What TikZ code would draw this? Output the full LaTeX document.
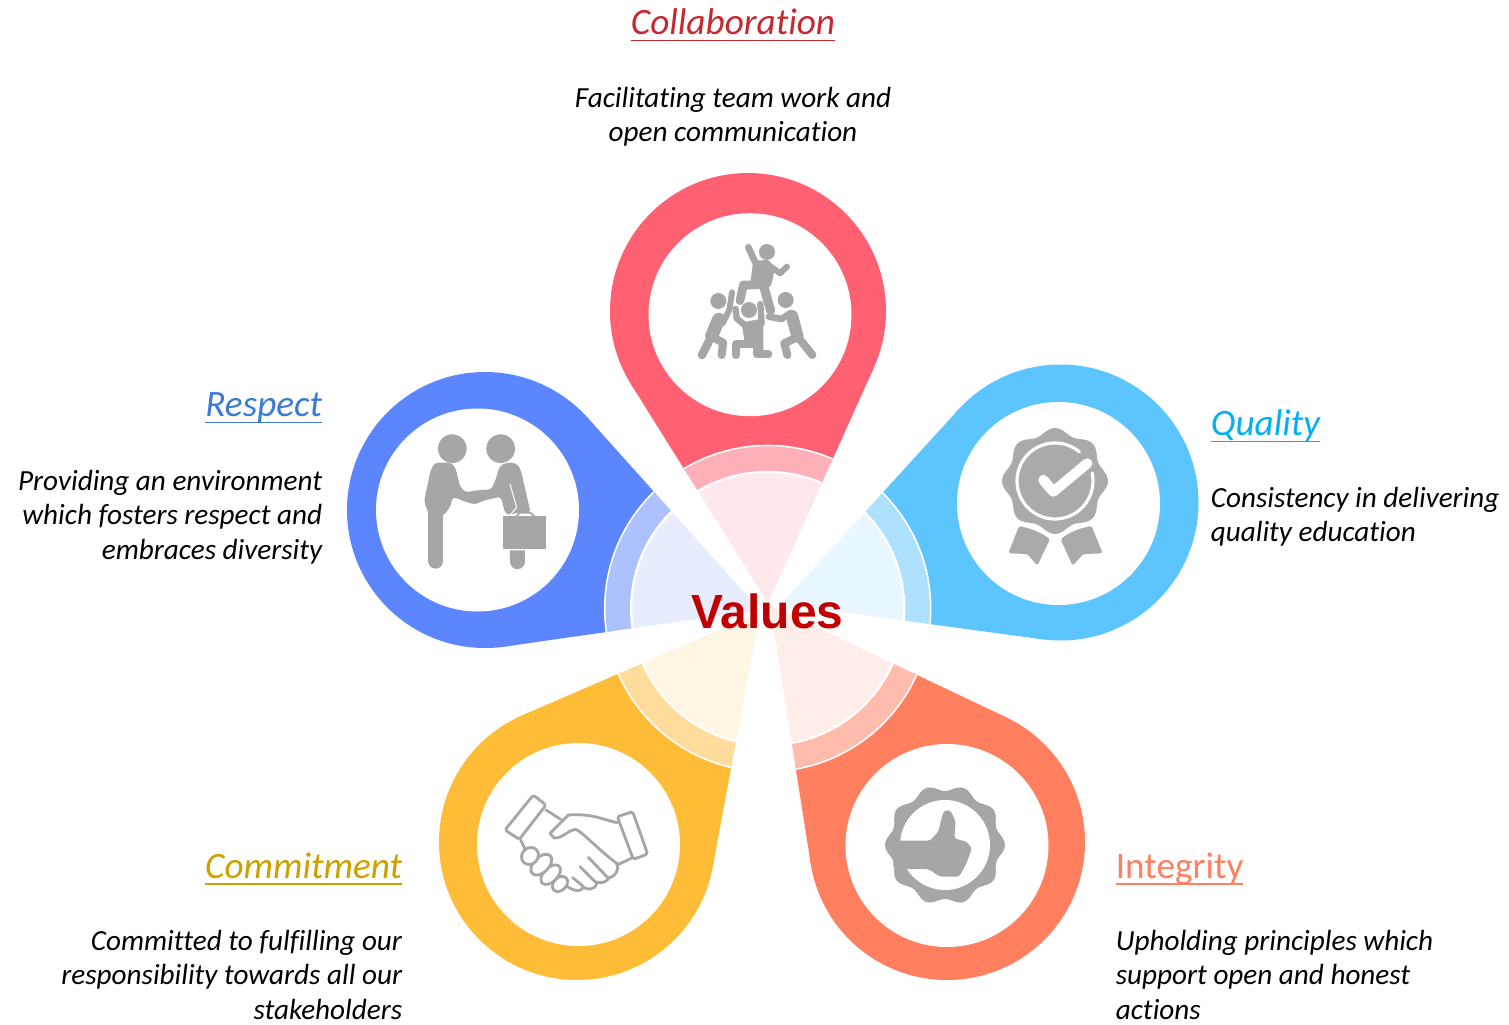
\documentclass[tikz,border=0pt]{standalone}
\usepackage{fontspec}
\setmainfont[Ligatures=NoCommon]{Carlito}
\newfontfamily\valuesfont{Liberation Sans}
\usetikzlibrary{calc}

\definecolor{iconc}{HTML}{A6A6A6}
\definecolor{redm}{HTML}{FF6072}
\definecolor{redr}{HTML}{FFAFB8}
\definecolor{redp}{HTML}{FFE8EB}
\definecolor{blum}{HTML}{5B86FF}
\definecolor{blur}{HTML}{ADC1FF}
\definecolor{blup}{HTML}{E7EDFF}
\definecolor{skym}{HTML}{5CC4FF}
\definecolor{skyr}{HTML}{AEE1FF}
\definecolor{skyp}{HTML}{E8F6FF}
\definecolor{corm}{HTML}{FF7F5F}
\definecolor{corr}{HTML}{FFBCAD}
\definecolor{corp}{HTML}{FFEDEA}
\definecolor{yelm}{HTML}{FFBC36}
\definecolor{yelr}{HTML}{FFDC9C}
\definecolor{yelp}{HTML}{FFF5E3}
\definecolor{collabt}{HTML}{C62832}
\definecolor{respectt}{HTML}{3A7BD5}
\definecolor{qualityt}{HTML}{00B0F0}
\definecolor{committ}{HTML}{CDA000}
\definecolor{valuest}{HTML}{C00000}

\newcommand{\hdrline}[1]{\leavevmode\setbox0\hbox{#1}\copy0\kern-\wd0\rule[-4pt]{\wd0}{1.1pt}}

\tikzset{
  head/.style={inner sep=0pt,font=\fontsize{21.2}{24}\selectfont\itshape},
  desc/.style={inner sep=0pt,font=\fontsize{16.6}{19.84}\selectfont\itshape},
  iconf/.style={fill=iconc},
  iconl/.style={draw=iconc,line cap=round,line join=round},
}

\begin{document}
\begin{tikzpicture}[x=0.02cm,y=-0.02cm]
  \useasboundingbox (0,0) rectangle (1509,1025);

  % petals: head centre / white disc centre / tip / colours
  \foreach \hx/\hy/\wx/\wy/\apx/\apy/\main/\ring/\pale in {
      748/311/750/314.7/768/603/redm/redr/redp,
      485/510/477.5/510/760/610/blum/blur/blup,
      1060.5/502.5/1058.5/503.5/781/604/skym/skyr/skyp,
      947/842/947/845.5/770/605/corm/corr/corp,
      577/842/578.5/844.5/760/612.5/yelm/yelr/yelp}
  {
    \pgfmathsetmacro\dir{atan2(\hy-\apy,\hx-\apx)}
    \pgfmathsetmacro\dist{veclen(\hx-\apx,\hy-\apy)}
    \pgfmathsetmacro\spread{acos(138/\dist)}
    \coordinate (tip) at (\apx,\apy);
    \coordinate (tana) at ([shift={({\dir+180+\spread}:138)}]\hx,\hy);
    \coordinate (tanb) at ([shift={({\dir+180-\spread}:138)}]\hx,\hy);
    \fill[\main] (\hx,\hy) circle (138);
    \begin{scope}
      % keep the strong colour out of the centre disc
      \clip (0,0) -- (0,1025) -- (1509,1025) -- (1509,0) -- cycle plot[domain=0:360,samples=90] ({767.7+160*cos(\x)},{608.5+160*sin(\x)}) -- cycle;
      \fill[\main] (tip) -- (tana) -- (tanb) -- cycle;
    \end{scope}
    \fill[white] (\wx,\wy) circle (101.5);
    % the two rings round the centre
    \begin{scope}
      \clip (tip) -- (tana) -- (tanb) -- cycle;
      \draw[\ring,line width=15pt] (767.7,608.5) circle (150);
      \draw[white,line width=0.9pt] (767.7,608.5) circle (163);
      \fill[\pale,draw=white,line width=1.3pt] (767.7,608.5) circle (136.5);
    \end{scope}
  }

  % team icon
  \begin{scope}[shift={(600,170)},scale=0.3333]
    \fill[iconf] (501,246) circle (24);
    \draw[iconl,line width=3.8pt] (445,232) -- (472,290);
    \fill[iconf,rounded corners=1.5pt] (460,272) -- (508,270) -- (524,300) -- (514,345) -- (495,365) -- (450,345) -- cycle;
    \draw[iconl,line width=3.4pt] (510,288) -- (540,310) -- (561,290);
    \draw[iconl,line width=4.9pt] (470,345) -- (430,345) -- (420,392);
    \draw[iconl,line width=5.2pt] (490,345) -- (512,422);
    \fill[iconf] (355,393) circle (24);
    \draw[iconl,line width=3.4pt] (396,367) -- (388,420) -- (368,460);
    \draw[iconl,line width=7.4pt] (356,448) -- (335,498);
    \draw[iconl,line width=4.8pt] (335,498) -- (306,555);
    \draw[iconl,line width=4.6pt] (345,505) -- (369,518) -- (365,555);
    \fill[iconf] (447,420) circle (24);
    \draw[iconl,line width=3.6pt] (407,417) -- (410,445) -- (440,470);
    \draw[iconl,line width=3.6pt] (481,402) -- (485,460);
    \fill[iconf] (425,458) -- (490,445) -- (490,545) -- (435,525) -- cycle;
    \draw[iconl,line width=4.6pt] (408,555) -- (408,522) -- (465,522);
    \draw[iconl,line width=4.6pt] (472,510) -- (472,553) -- (505,553);
    \fill[iconf] (557,390) circle (24);
    \draw[iconl,line width=3.8pt] (507,440) -- (545,447) -- (570,430);
    \draw[iconl,line width=7pt] (576,438) -- (592,498);
    \draw[iconl,line width=4.6pt] (597,505) -- (637,555);
    \draw[iconl,line width=4.6pt] (585,505) -- (553,520) -- (562,555);
  \end{scope}

  % two men icon
  \begin{scope}[shift={(340,370)},scale=0.3333]
    \fill[iconf] (337,236) circle (43);
    \fill[iconf] (482,236) circle (43);
    \fill[iconf,rounded corners=2pt] (272,300) -- (285,278) -- (335,278) -- (348,298) -- (360,350) -- (378,368) -- (400,362) -- (455,358) -- (470,320) -- (478,290) -- (500,277) -- (530,280) -- (542,298) -- (572,428) -- (530,428) -- (510,435) -- (495,430) -- (483,380) -- (430,392) -- (405,404) -- (375,395) -- (338,380) -- (330,412) -- (310,438) -- (268,435) -- (252,395) -- cycle;
    \draw[iconl,line width=8.7pt] (287,430) -- (287,573);
    \draw[white,line width=0.6pt] (510,342) -- (530,412) -- (510,436);
    \fill[iconf] (489,438) rectangle (618,536);
    \draw[iconl,line width=1pt] (530,438) -- (540,428) -- (572,428) -- (582,438);
    \fill[iconf] (510,541) -- (555,541) -- (555,575) arc (0:-180:22.5 and -22.5) -- cycle;
  \end{scope}

  % rosette icon
  \begin{scope}[shift={(940,400)},scale=0.3333]
    \fill[iconc!95!white] plot[domain=0:360,samples=121,smooth] ({345+(150+9*cos(8*\x))*cos(\x)},{243+(150+9*cos(8*\x))*sin(\x)}) -- cycle;
    \draw[white,line width=1.8pt,line cap=round] plot[domain=-12:310,samples=60,smooth] ({345+114*cos(\x)},{243+114*sin(\x)});
    \draw[white,line width=5.8pt,line cap=round,line join=round] (310,240) -- (340,275) -- (442,190);
    \fill[iconc!95!white,rounded corners=1pt] (237,378) .. controls (270,385) and (300,395) .. (330,418) -- (292,497) -- (262,462) -- (205,460) -- cycle;
    \fill[iconc!95!white,rounded corners=1pt] (362,418) .. controls (390,395) and (420,385) .. (455,378) -- (488,460) -- (430,462) -- (398,497) -- cycle;
  \end{scope}

  % handshake icon
  \begin{scope}[shift={(480,770)},scale=0.3333]
    \draw[iconl,line width=1.6pt,rounded corners=1pt] (160,75) -- (198,105) -- (118,208) -- (75,180) -- cycle;
    \draw[iconl,line width=1.6pt,rounded corners=1pt] (412,140) -- (458,125) -- (503,252) -- (460,268) -- cycle;
    \draw[iconl,line width=1.6pt] (198,120) -- (242,148);
    \draw[iconl,line width=1.6pt] (122,210) -- (134,235);
    \draw[iconl,line width=1.6pt] (412,158) .. controls (370,150) and (340,130) .. (265,135) -- (210,190) -- (222,204) .. controls (250,205) and (265,180) .. (285,178) .. controls (300,178) and (350,235) .. (410,280) -- (418,282) -- (460,262);
    \draw[iconl,line width=1.6pt] (410,280) .. controls (420,300) and (405,320) .. (385,325) -- (325,262);
    \draw[iconl,line width=1.6pt] (385,328) .. controls (370,340) and (360,340) .. (345,335) -- (300,290);
    \draw[iconl,line width=1.6pt] (350,340) .. controls (345,360) and (320,365) .. (305,345) -- (278,323);
    \draw[iconl,line width=1.6pt] (310,352) .. controls (300,370) and (275,360) .. (255,345);
    % fingers, last one first
    \draw[iconl,fill=white,line width=1.6pt] (240,342) circle [x radius=26,y radius=19,rotate=45];
    \draw[iconl,fill=white,line width=1.6pt] (212,314) circle [x radius=36,y radius=21,rotate=45];
    \draw[iconl,fill=white,line width=1.6pt] (184,284) circle [x radius=38,y radius=23,rotate=45];
    \draw[iconl,fill=white,line width=1.6pt] (150,258) circle [x radius=27,y radius=24,rotate=45];
  \end{scope}

  % thumb icon
  \begin{scope}[shift={(860,770)},scale=0.3333]
    \fill[iconf] plot[domain=0:360,samples=141,smooth] ({255+(171+9*cos(10*\x))*cos(\x)},{225+(171+9*cos(10*\x))*sin(\x)}) -- cycle;
    \fill[white] (255,225) circle (135);
    \fill[iconf,rounded corners=1.5pt] (100,212) -- (210,212) -- (235,185) -- (247,135) -- (255,120) -- (272,122) -- (287,155) -- (283,205) -- (320,215) -- (336,235) -- (325,265) -- (315,290) -- (297,320) -- (240,320) -- (205,297) -- (100,297) -- cycle;
  \end{scope}

  % centre word
  \node[inner sep=0pt,text=valuest,font=\valuesfont\bfseries\fontsize{27.3}{30}\selectfont] (values) at (767.5,611.5) {Values};

  % titles and texts
  \node[head,text=collabt,anchor=center] (collab) at (733,25) {\hdrline{Collaboration}};
  \node[desc,align=center,anchor=north] (collabtxt) at (733,86.5) {Facilitating team work and\\open communication};

  \node[head,text=respectt,anchor=east] (respect) at (322.5,408) {\hdrline{Respect}};
  \node[desc,align=right,anchor=north east] (respecttxt) at (322.5,469.5) {Providing an environment\\which fosters respect and\\embraces diversity};

  \node[head,text=qualityt,anchor=west] (quality) at (1210.5,426) {\hdrline{Quality}};
  \node[desc,align=left,anchor=north west] (qualitytxt) at (1210.5,486.5) {Consistency in delivering\\quality education};

  \node[head,text=committ,anchor=east] (commit) at (402.5,869) {\hdrline{Commitment}};
  \node[desc,align=right,anchor=north east] (committxt) at (402.5,929.5) {Committed to fulfilling our\\responsibility towards all our\\stakeholders};

  \node[head,text=corm,font=\fontsize{21.2}{24}\selectfont,anchor=west] (integrity) at (1115.5,869) {\hdrline{Integrity}};
  \node[desc,align=left,anchor=north west] (integritytxt) at (1115.5,929.5) {Upholding principles which\\support open and honest\\actions};
\end{tikzpicture}
\end{document}
